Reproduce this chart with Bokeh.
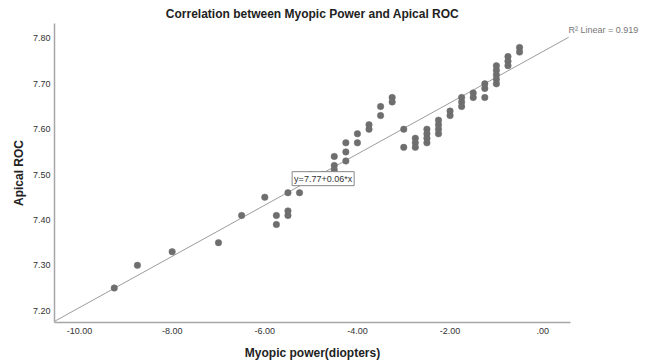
from bokeh.plotting import figure
from bokeh.models import Label, FixedTicker, LinearAxis
from bokeh.embed import file_html
from bokeh.resources import INLINE

# ---- data ----
myopic_power = [-9.25, -8.75, -8.0, -7.0, -6.5, -6.0,
                -5.75, -5.75, -5.5, -5.5, -5.5, -5.25, -5.0, -4.75,
                -4.5, -4.5, -4.5, -4.25, -4.25, -4.25, -4.0, -4.0,
                -3.75, -3.75, -3.5, -3.5, -3.25, -3.25, -3.0, -3.0,
                -2.75, -2.75, -2.75, -2.5, -2.5, -2.5, -2.5,
                -2.25, -2.25, -2.25, -2.25, -2.0, -2.0,
                -1.75, -1.75, -1.75, -1.5, -1.5, -1.25, -1.25, -1.25,
                -1.0, -1.0, -1.0, -1.0, -1.0, -0.75, -0.75, -0.75,
                -0.5, -0.5]
apical_roc = [7.25, 7.30, 7.33, 7.35, 7.41, 7.45,
              7.41, 7.39, 7.46, 7.42, 7.41, 7.46, 7.50, 7.50,
              7.54, 7.52, 7.51, 7.57, 7.55, 7.53, 7.59, 7.57,
              7.61, 7.60, 7.65, 7.63, 7.67, 7.66, 7.60, 7.56,
              7.58, 7.57, 7.56, 7.60, 7.59, 7.58, 7.57,
              7.62, 7.61, 7.60, 7.59, 7.64, 7.63,
              7.67, 7.66, 7.65, 7.68, 7.67, 7.70, 7.69, 7.67,
              7.74, 7.73, 7.72, 7.71, 7.70, 7.76, 7.75, 7.74,
              7.78, 7.77]

x_ticks = [-10, -8, -6, -4, -2, 0]
x_tick_labels = ["-10.00", "-8.00", "-6.00", "-4.00", "-2.00", ".00"]
y_ticks = [7.2, 7.3, 7.4, 7.5, 7.6, 7.7, 7.8]
y_tick_labels = ["7.20", "7.30", "7.40", "7.50", "7.60", "7.70", "7.80"]

fit_intercept = 7.771
fit_slope = 0.0564
fit_x = [-10.58, 0.56]
fit_y = [fit_intercept + fit_slope * v for v in fit_x]
equation_text = "y=7.77+0.06*x"
r2_text = "R\u00b2 Linear = 0.919"
r2_level = 7.818

X_RANGE = (-10.54, 0.60)
Y_RANGE = (7.174, 7.833)
FONT = "Liberation Sans"

p = figure(width=645, height=364, x_range=X_RANGE, y_range=Y_RANGE,
           output_backend="svg", toolbar_location=None,
           min_border_left=54, min_border_right=75,
           min_border_top=23, min_border_bottom=42)

p.title.text = "Correlation between Myopic Power and Apical ROC"
p.title.align = "center"
p.title.text_font = FONT
p.title.text_font_size = "12px"
p.title.text_font_style = "bold"
p.title.text_color = "#222222"
p.title.standoff = 6

p.outline_line_color = None
p.xgrid.visible = False
p.ygrid.visible = False
p.background_fill_color = "white"

for ax in (p.xaxis[0], p.yaxis[0]):
    ax.axis_line_color = "#a6a6a6"
    ax.axis_line_width = 1.5
    ax.major_tick_line_color = None
    ax.minor_tick_line_color = None
    ax.major_tick_out = 0
    ax.major_tick_in = 0
    ax.major_label_text_font = FONT
    ax.major_label_text_font_size = "9px"
    ax.major_label_text_color = "#333333"
    ax.axis_label_text_font = FONT
    ax.axis_label_text_font_size = "12px"
    ax.axis_label_text_font_style = "bold"
    ax.axis_label_text_color = "#222222"

p.xaxis.ticker = FixedTicker(ticks=x_ticks)
p.xaxis.major_label_overrides = {t: l for t, l in zip(x_ticks, x_tick_labels)}
p.yaxis.ticker = FixedTicker(ticks=y_ticks)
p.yaxis.major_label_overrides = {t: l for t, l in zip(y_ticks, y_tick_labels)}
p.xaxis.axis_label = "Myopic power(diopters)"
p.yaxis.axis_label = "Apical ROC"
p.xaxis.major_label_standoff = 5
p.xaxis.axis_label_standoff = 9
p.yaxis.major_label_standoff = 4
p.yaxis.axis_label_standoff = 4

# R² note placed just right of the frame via a label-only right axis
r2_axis = LinearAxis(ticker=FixedTicker(ticks=[r2_level]),
                     major_label_overrides={r2_level: r2_text},
                     axis_line_color=None, major_tick_line_color=None,
                     minor_tick_line_color=None, major_tick_out=0,
                     major_tick_in=0, major_label_standoff=-2,
                     major_label_text_font=FONT,
                     major_label_text_font_size="9px",
                     major_label_text_color="#777777")
p.add_layout(r2_axis, "right")

p.line(fit_x, fit_y, line_color="#9c9c9c", line_width=1)
p.scatter(myopic_power, apical_roc, size=6.5, fill_color="#6e6e6e",
          line_color="#6e6e6e", line_width=0.5)

p.add_layout(Label(x=-5.41, y=7.491, text=equation_text, text_font=FONT,
                   text_font_size="9px", text_color="#333333",
                   text_baseline="middle", padding=2,
                   border_line_color="#888888", border_line_width=1,
                   background_fill_color="white"))

open("out.html", "w").write(file_html(p, INLINE))
